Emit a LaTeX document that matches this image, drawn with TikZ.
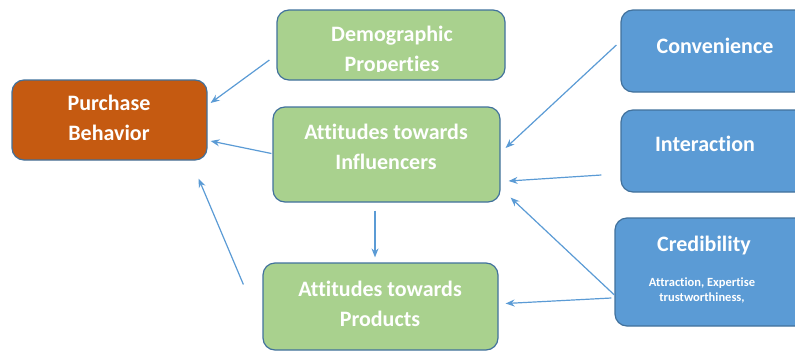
\documentclass[tikz,border=0pt]{standalone}
\usepackage{fontspec}
\setmainfont{Carlito}[Ligatures=NoCommon]
\usetikzlibrary{arrows.meta}
\definecolor{rust}{HTML}{C55A11}
\definecolor{leaf}{HTML}{A9D18E}
\definecolor{sky}{HTML}{5B9BD5}
\definecolor{edge}{HTML}{41719C}
\tikzset{
  box/.style={draw=edge, line width=1.2pt, rounded corners=12pt, inner sep=0pt},
  orangebox/.style={box, fill=rust},
  greenbox/.style={box, fill=leaf},
  bluebox/.style={box, fill=sky},
  boxtext/.style={text=white, font=\bfseries\fontsize{22}{30}\selectfont, align=center},
  smalltext/.style={text=white, font=\bfseries\fontsize{12.5}{15}\selectfont, align=center},
  link/.style={draw=sky, line width=1.2pt, -{Stealth[length=9pt,width=7pt]}},
}

\begin{document}
\begin{tikzpicture}[x=1pt, y=-1pt]
\clip (0,0) rectangle (795,351);

% boxes
\node (pb) [orangebox, minimum width=195, minimum height=80] at (109.5,120) {};
\node (demo) [greenbox, minimum width=228, minimum height=70] at (391,45) {};
\node (infl) [greenbox, minimum width=227, minimum height=95] at (386.5,154.5) {};
\node (prod) [greenbox, minimum width=235, minimum height=87] at (380.5,306.5) {};
\node (conv) [bluebox, minimum width=194, minimum height=82] at (718,51) {};
\node (inter) [bluebox, minimum width=194, minimum height=82] at (718,151) {};
\node (cred) [bluebox, minimum width=200, minimum height=108] at (715,272) {};

% labels
\node (pbtxt) [boxtext] at (109,118) {Purchase\\Behavior};
\begin{scope}
\clip (277,10) rectangle (505,71.5);
\node (demotxt) [boxtext] at (392,51) {Demographic\\Properties};
\end{scope}
\node (infltxt) [boxtext] at (386,147) {Attitudes towards\\Influencers};
\node (prodtxt) [boxtext] at (380,304) {Attitudes towards\\Products};
\node (convtxt) [boxtext] at (715,46) {Convenience};
\node (intertxt) [boxtext] at (705,144) {Interaction};
\node (credtxt) [boxtext] at (704,246) {Credibility};
\node (credsub) [smalltext] at (702,290) {Attraction, Expertise\\trustworthiness,};

% arrows
\draw[link] ([xshift=-7pt,yshift=-15pt]demo.west) -- ([xshift=3pt,yshift=17pt]pb.east);
\draw[link] ([xshift=-1pt,yshift=1pt]infl.west) -- ([xshift=3pt,yshift=-21pt]pb.east);
\draw[link] ([xshift=-19pt,yshift=22pt]prod.west) -- ([xshift=-9pt,yshift=-18pt]pb.south east);
\draw[link] ([xshift=-11.5pt,yshift=-8pt]infl.south) -- ([xshift=-5.5pt,yshift=5pt]prod.north);
\draw[link] ([xshift=-4pt,yshift=6pt]conv.west) -- ([xshift=5pt,yshift=6.5pt]infl.east);
\draw[link] ([xshift=-19pt,yshift=-24pt]inter.west) -- ([xshift=8pt,yshift=-26.5pt]infl.east);
\draw[link] ([yshift=-23pt]cred.west) -- ([xshift=10pt,yshift=5pt]infl.south east);
\draw[link] ([xshift=-3pt,yshift=-26pt]cred.west) -- ([xshift=7pt,yshift=3pt]prod.east);
\end{tikzpicture}
\end{document}
